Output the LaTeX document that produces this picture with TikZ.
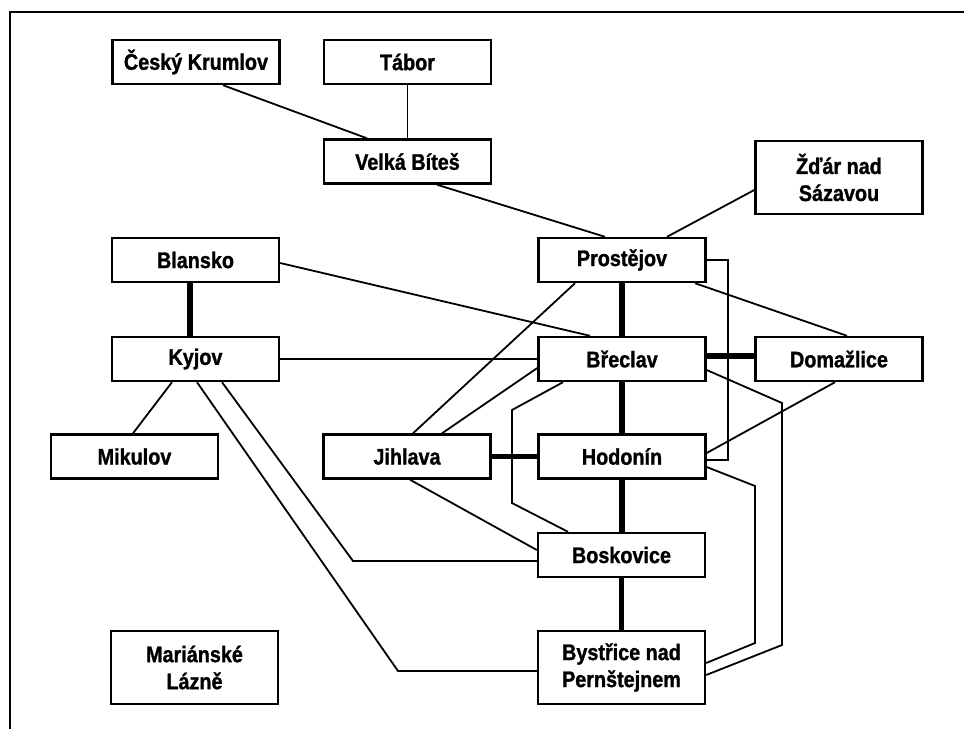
\documentclass[tikz,border=0pt]{standalone}
\usepackage{fontspec}
\setmainfont{Liberation Sans}[FakeStretch=0.88, BoldFeatures={FakeBold=1.2}]
\begin{document}
\begin{tikzpicture}[x=1pt,y=-1pt,
  town/.style={draw, line width=2.4pt, minimum width=167pt, minimum height=44pt, inner sep=0pt,
    align=center, font=\fontsize{22.5}{27}\selectfont\bfseries},
  tall/.style={minimum height=73pt},
  link/.style={line width=1.8pt, line join=miter},
  strong/.style={line width=5.5pt}]
\useasboundingbox (0,0) rectangle (964,729);
\draw[line width=2.2pt] (10,729) -- (10,12) -- (964,12);
% nodes
\node[town] (ck)  at (196,62)    {Český Krumlov};
\node[town] (tab) at (407.5,62)  {Tábor};
\node[town] (vb)  at (407.5,161.5) {Velká Bíteš};
\node[town,tall] (zd) at (839,177.5) {Žďár nad\\Sázavou};
\node[town] (bl)  at (195.5,260) {Blansko};
\node[town] (ky)  at (195.5,359) {Kyjov};
\node[town] (mi)  at (134.5,456.5) {Mikulov};
\node[town] (ji)  at (407,456.5) {Jihlava};
\node[town] (pr)  at (622,260)   {Prostějov};
\node[town] (br)  at (622,359)   {Břeclav};
\node[town] (do)  at (839,359)   {Domažlice};
\node[town] (ho)  at (622,456.5) {Hodonín};
\node[town] (bo)  at (621.5,555) {Boskovice};
\node[town,tall] (by) at (621.5,667.5) {Bystřice nad\\Pernštejnem};
\node[town,tall] (ml) at (194.5,667.5) {Mariánské\\Lázně};
% bend points
\coordinate (k1) at (398,671);
\coordinate (k2) at (353,561);
\coordinate (b1) at (512,410);
\coordinate (b2) at (512,503);
\coordinate (p1) at (728,260);
\coordinate (p2) at (728,460);
\coordinate (r1) at (782,403);
\coordinate (r2) at (782,645);
\coordinate (h1) at (755,486);
\coordinate (h2) at (755,643);
% thin links
\draw[link] ([xshift=27pt]ck.south) -- ([xshift=-40.5pt]vb.north);
\draw[link] (tab.south) -- (vb.north);
\draw[link] ([xshift=29.5pt]vb.south) -- ([xshift=-17pt]pr.north);
\draw[link] ([yshift=-12.5pt]zd.west) -- ([xshift=45pt]pr.north);
\draw[link] ([yshift=-3pt]bl.east) -- ([xshift=-32pt]br.north);
\draw[link] (ky.east) -- (ky.east -| br.west);
\draw[link] ([xshift=-23.5pt]ky.south) -- ([xshift=-1.5pt]mi.north);
\draw[link] ([xshift=1.5pt]ky.south) -- (k1) -- (k1 -| by.west);
\draw[link] ([xshift=26.5pt]ky.south) -- (k2) -- (k2 -| bo.west);
\draw[link] ([xshift=6pt]ji.north) -- ([xshift=-47pt]pr.south);
\draw[link] ([xshift=35pt]ji.north) -- ([yshift=-9pt]br.west);
\draw[link] ([xshift=3pt]ji.south) -- ([yshift=5pt]bo.west);
\draw[link] ([xshift=-59pt]br.south) -- (b1) -- (b2) -- ([xshift=-53.5pt]bo.north);
\draw[link] (pr.east) -- (p1) -- (p2) -- (p2 -| ho.east);
\draw[link] ([xshift=73pt]pr.south) -- ([xshift=8pt]do.north);
\draw[link] ([xshift=-4pt]do.south) -- ([yshift=3.5pt]ho.east);
\draw[link] ([yshift=-11pt]br.east) -- (r1) -- (r2) -- ([yshift=-7.5pt]by.east);
\draw[link] ([yshift=-10.5pt]ho.east) -- (h1) -- (h2) -- ([yshift=4.5pt]by.east);
% strong links
\draw[strong] ([xshift=-5.5pt]bl.south) -- ([xshift=-5.5pt]ky.north);
\draw[strong] (ji.east) -- (ji.east -| ho.west);
\draw[strong] ([yshift=3pt]br.east) -- ([yshift=3pt]br.east -| do.west);
\draw[strong] (pr.south) -- (br.north);
\draw[strong] (br.south) -- (ho.north);
\draw[strong] (ho.south) -- (ho.south |- bo.north);
\draw[strong] (bo.south) -- (bo.south |- by.north);
\end{tikzpicture}
\end{document}
